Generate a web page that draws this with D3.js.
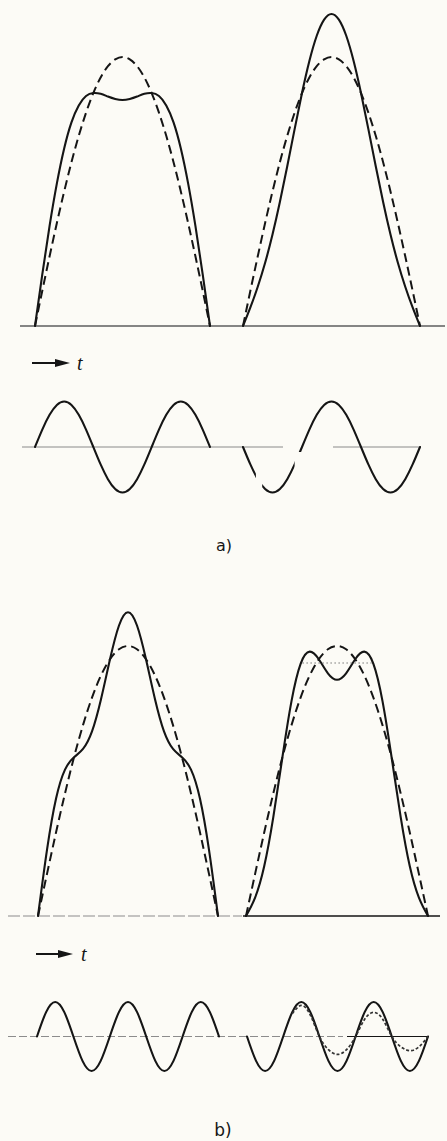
<!DOCTYPE html>
<html>
<head>
<meta charset="utf-8">
<script src="https://cdn.jsdelivr.net/npm/d3@7"></script>
<style>
  html, body { margin: 0; padding: 0; background: #fcfbf6; }
  svg { display: block; }
</style>
</head>
<body>
<svg id="chart" width="447" height="1141"></svg>
<script>
// ---------- DATA (amplitude unit = dashed fundamental peak) ----------
// panel a: sample index 0..24 across each pulse
const stepsA = [0,1,2,3,4,5,6,7,8,9,10,11,12,13,14,15,16,17,18,19,20,21,22,23,24];
const fundamentalA = [0,0.131,0.259,0.383,0.5,0.609,0.707,0.793,0.866,0.924,0.966,0.991,1,0.991,0.966,0.924,0.866,0.793,0.707,0.609,0.5,0.383,0.259,0.131,0];
const solidLeftA   = [0,0.192,0.372,0.530,0.660,0.757,0.820,0.855,0.866,0.863,0.853,0.844,0.840,0.844,0.853,0.863,0.866,0.855,0.820,0.757,0.660,0.530,0.372,0.192,0];
const solidRightA  = [0,0.069,0.146,0.235,0.340,0.461,0.594,0.732,0.866,0.985,1.079,1.139,1.160,1.139,1.079,0.985,0.866,0.732,0.594,0.461,0.340,0.235,0.146,0.069,0];
const waveLeftA    = [0,0.383,0.707,0.924,1,0.924,0.707,0.383,0,-0.383,-0.707,-0.924,-1,-0.924,-0.707,-0.383,0,0.383,0.707,0.924,1,0.924,0.707,0.383,0];
const waveRightA   = [0,-0.383,-0.707,-0.924,-1,-0.924,-0.707,-0.383,0,0.383,0.707,0.924,1,0.924,0.707,0.383,0,-0.383,-0.707,-0.924,-1,-0.924,-0.707,-0.383,0];
// print gaps in the right wave of panel a (in step units)
const waveGapsA = [[1.75, 2.6], [7.0, 8.2]];

// panel b: sample index 0..20 across each pulse
const stepsB = [0,1,2,3,4,5,6,7,8,9,10,11,12,13,14,15,16,17,18,19,20];
const fundamentalB = [0,0.156,0.309,0.454,0.588,0.707,0.809,0.891,0.951,0.988,1,0.988,0.951,0.891,0.809,0.707,0.588,0.454,0.309,0.156,0];
const solidLeftB   = [0,0.245,0.434,0.542,0.588,0.619,0.684,0.803,0.951,1.076,1.125,1.076,0.951,0.803,0.684,0.619,0.588,0.542,0.434,0.245,0];
const solidRightB  = [0,0.068,0.184,0.366,0.588,0.796,0.934,0.979,0.951,0.899,0.875,0.899,0.951,0.979,0.934,0.796,0.588,0.366,0.184,0.068,0];
const waveLeftB    = [0,0.707,1,0.707,0,-0.707,-1,-0.707,0,0.707,1,0.707,0,-0.707,-1,-0.707,0,0.707,1,0.707,0];
const waveRightB   = [0,-0.707,-1,-0.707,0,0.707,1,0.707,0,-0.707,-1,-0.707,0,0.707,1,0.707,0,-0.707,-1,-0.707,0];
const dashedWaveStepsB  = [5,6,7,8,9,10,11,12,13,14,15,16,17,18,19,20];
const dashedWaveRightB  = [0.66,0.9,0.62,0,-0.38,-0.52,-0.38,0,0.5,0.70,0.5,0,-0.3,-0.41,-0.3,0];
const dottedLevelB = [{s: 6.2, v: 0.937}, {s: 13.8, v: 0.937}];

const labels = ["a)", "b)"];
const axisLabel = "t";

// ---------- DRAWING ----------
const svg = d3.select("#chart");
const ink = "#151515";

function pts(steps, vals) { return steps.map((s, i) => ({s, v: vals[i]})); }

function drawCurve(data, xs, ys, style) {
  const line = d3.line().x(d => xs(d.s)).y(d => ys(d.v)).curve(d3.curveNatural);
  const p = svg.append("path").attr("d", line(data))
    .attr("fill", "none").attr("stroke", style.color || ink)
    .attr("stroke-width", style.width || 2)
    .attr("stroke-linecap", "round").attr("stroke-linejoin", "round");
  if (style.dash) p.attr("stroke-dasharray", style.dash).attr("stroke-linecap", "butt");
  return p;
}

function hline(x1, x2, y, color, w, dash) {
  const l = svg.append("line").attr("x1", x1).attr("x2", x2).attr("y1", y).attr("y2", y)
    .attr("stroke", color).attr("stroke-width", w);
  if (dash) l.attr("stroke-dasharray", dash);
}

function arrow(x1, x2, y, tx) {
  svg.append("line").attr("x1", x1).attr("x2", x2 - 10).attr("y1", y).attr("y2", y)
    .attr("stroke", ink).attr("stroke-width", 2);
  svg.append("path").attr("d", `M${x2 - 15},${y - 4} L${x2},${y} L${x2 - 15},${y + 4} Z`).attr("fill", ink);
  svg.append("text").attr("x", tx).attr("y", y + 7).text(axisLabel)
    .attr("font-family", "Liberation Serif, serif").attr("font-style", "italic")
    .attr("font-size", 20).attr("fill", ink);
}

// ===== Panel a =====
{
  const xL = d3.scaleLinear().domain([0, 24]).range([35, 210]);
  const xR = d3.scaleLinear().domain([0, 24]).range([243, 420]);
  const y = d3.scaleLinear().domain([0, 1]).range([326, 57]);
  const yw = d3.scaleLinear().domain([-1, 1]).range([492.5, 401.5]);

  hline(20, 445, 326, "#5e5e5e", 1.4);
  drawCurve(pts(stepsA, fundamentalA), xL, y, {dash: "9,5", width: 2});
  drawCurve(pts(stepsA, fundamentalA), xR, y, {dash: "9,5", width: 2});
  drawCurve(pts(stepsA, solidLeftA), xL, y, {width: 2.1});
  drawCurve(pts(stepsA, solidRightA), xR, y, {width: 2.1});

  arrow(32, 70, 363, 77);

  hline(22, 283, 447, "#8a8a8a", 1);
  hline(333, 420, 447, "#8a8a8a", 1);
  drawCurve(pts(stepsA, waveLeftA), xL, yw, {width: 2.1});
  drawCurve(pts(stepsA, waveRightA), xR, yw, {width: 2.1});
  // print gaps
  waveGapsA.forEach(g => {
    svg.append("rect").attr("x", xR(g[0])).attr("width", xR(g[1]) - xR(g[0]))
      .attr("y", 452).attr("height", 45).attr("fill", "#fcfbf6");
  });

  svg.append("text").attr("x", 224).attr("y", 551).attr("text-anchor", "middle")
    .attr("font-family", "DejaVu Sans, sans-serif").attr("font-size", 16).attr("fill", ink).text(labels[0]);
}

// ===== Panel b =====
{
  const xL = d3.scaleLinear().domain([0, 20]).range([38, 218]);
  const xR = d3.scaleLinear().domain([0, 20]).range([246, 428]);
  const y = d3.scaleLinear().domain([0, 1]).range([916, 646]);
  const xwL = d3.scaleLinear().domain([0, 20]).range([37, 219]);
  const xwR = d3.scaleLinear().domain([0, 20]).range([247, 428]);
  const yw = d3.scaleLinear().domain([-1, 1]).range([1071, 1002]);

  hline(8, 242, 916, "#8c8c8c", 1.2, "12,3");
  hline(243, 440, 916, ink, 1.5);
  drawCurve(pts(stepsB, fundamentalB), xL, y, {dash: "9,5", width: 2});
  drawCurve(pts(stepsB, fundamentalB), xR, y, {dash: "9,5", width: 2});
  drawCurve(pts(stepsB, solidLeftB), xL, y, {width: 2.1});
  drawCurve(pts(stepsB, solidRightB), xR, y, {width: 2.1});
  svg.append("path")
    .attr("d", d3.line().x(d => xR(d.s)).y(d => y(d.v))(dottedLevelB))
    .attr("stroke", "#777").attr("stroke-width", 1).attr("stroke-dasharray", "1.5,2.5").attr("fill", "none");

  arrow(36, 73, 954, 81);

  hline(8, 343, 1036.5, "#8c8c8c", 1.1, "8,3");
  hline(347, 428, 1036.5, ink, 1);
  drawCurve(pts(stepsB, waveLeftB), xwL, yw, {width: 2.1});
  drawCurve(pts(stepsB, waveRightB), xwR, yw, {width: 2.1});
  drawCurve(pts(dashedWaveStepsB, dashedWaveRightB), xwR, yw, {width: 1.7, dash: "3,2", color: "#333"});

  svg.append("text").attr("x", 223).attr("y", 1136).attr("text-anchor", "middle")
    .attr("font-family", "DejaVu Sans, sans-serif").attr("font-size", 17).attr("fill", ink).text(labels[1]);
}
</script>
</body>
</html>
